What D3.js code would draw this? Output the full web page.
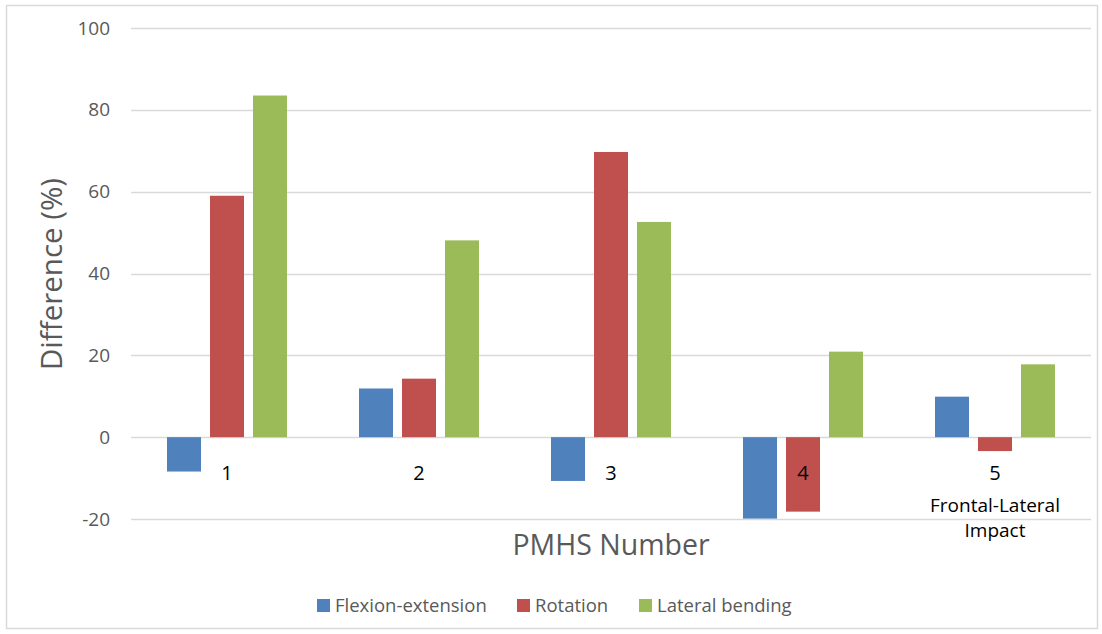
<!DOCTYPE html>
<html>
<head>
<meta charset="utf-8">
<script src="https://cdn.jsdelivr.net/npm/d3@7"></script>
<style>
  html, body { margin: 0; padding: 0; background: #fff; }
  svg { display: block; font-family: "Open Sans", "Noto Sans", sans-serif; }
</style>
</head>
<body>
<svg id="chart" width="1102" height="634"></svg>
<script>
// PMHS specimens and per-motion differences (%)
const categories = ["1", "2", "3", "4", "5"];
const categorySubLabels = [[], [], [], [], ["Frontal-Lateral", "Impact"]];
const seriesNames = ["Flexion-extension", "Rotation", "Lateral bending"];
const flexionExtension = [-8.4, 11.9, -10.7, -19.9, 9.9];
const rotation = [59.0, 14.3, 69.7, -18.2, -3.4];
const lateralBending = [83.5, 48.1, 52.6, 20.9, 17.8];
const yTicks = [-20, 0, 20, 40, 60, 80, 100];
const colors = ["#4F81BD", "#C0504D", "#9BBB59"];

const seriesValues = [flexionExtension, rotation, lateralBending];

const svg = d3.select("#chart");

// outer frame
svg.append("rect")
  .attr("x", 6.5).attr("y", 5.5)
  .attr("width", 1091).attr("height", 623)
  .attr("fill", "none").attr("stroke", "#d9d9d9").attr("stroke-width", 1.5);

const plotLeft = 131, plotRight = 1091, plotTop = 28, plotBottom = 519;

const x = d3.scaleBand().domain(categories).range([plotLeft, plotRight]).padding(0);
const y = d3.scaleLinear().domain([-20, 100]).range([plotBottom, plotTop]);

// horizontal gridlines
svg.append("g").selectAll("line").data(yTicks).join("line")
  .attr("x1", plotLeft).attr("x2", plotRight)
  .attr("y1", d => Math.round(y(d)) + 0.5).attr("y2", d => Math.round(y(d)) + 0.5)
  .attr("stroke", "#d9d9d9").attr("stroke-width", 1.5);

// y-axis tick labels (plain hyphen for negatives)
const yAxis = d3.axisLeft(y).tickValues(yTicks).tickFormat(d => String(d))
  .tickSize(0).tickPadding(0);
const yg = svg.append("g").attr("transform", `translate(${plotLeft - 21},0)`).call(yAxis);
yg.select(".domain").remove();
yg.selectAll("text")
  .attr("fill", "#595959").style("font-size", "19px")
  .style("font-family", "'Open Sans', sans-serif");

// bars: fixed bar width and gap inside each category band
const barW = 34, barGap = 9;
const groupW = barW * 3 + barGap * 2;
const sub = d3.scaleBand().domain(d3.range(3))
  .range([0, groupW]).paddingInner(barGap / (barW + barGap)).paddingOuter(0);

const groups = svg.append("g").selectAll("g").data(categories).join("g")
  .attr("transform", d => `translate(${x(d) + x.bandwidth() / 2 - groupW / 2},0)`);

groups.selectAll("rect")
  .data((c, ci) => seriesValues.map((vals, si) => ({ si, v: vals[ci] })))
  .join("rect")
  .attr("x", d => sub(d.si))
  .attr("width", sub.bandwidth())
  .attr("y", d => y(Math.max(0, d.v)))
  .attr("height", d => Math.abs(y(d.v) - y(0)))
  .attr("fill", d => colors[d.si]);

// category labels, placed just below the zero line
const catG = svg.append("g");
categories.forEach((c, i) => {
  const cx = x(c) + x.bandwidth() / 2;
  catG.append("text")
    .attr("x", cx).attr("y", 480)
    .attr("text-anchor", "middle")
    .attr("fill", "#000").style("font-size", "20px")
    .text(c);
  categorySubLabels[i].forEach((s, k) => {
    catG.append("text")
      .attr("x", cx).attr("y", 512 + k * 25)
      .attr("text-anchor", "middle")
      .attr("fill", "#000").style("font-size", "19px")
      .text(s);
  });
});

// axis titles
svg.append("text")
  .attr("x", 611).attr("y", 555)
  .attr("text-anchor", "middle")
  .attr("fill", "#595959").style("font-size", "28.5px")
  .text("PMHS Number");

svg.append("text")
  .attr("transform", "translate(62,274) rotate(-90)")
  .attr("text-anchor", "middle")
  .attr("fill", "#595959").style("font-size", "29.5px")
  .text("Difference (%)");

// legend
const legendItems = [
  { name: seriesNames[0], x: 317 },
  { name: seriesNames[1], x: 517 },
  { name: seriesNames[2], x: 639 }
];
const lg = svg.append("g");
legendItems.forEach((it, i) => {
  lg.append("rect")
    .attr("x", it.x).attr("y", 599)
    .attr("width", 13).attr("height", 13)
    .attr("fill", colors[i]);
  lg.append("text")
    .attr("x", it.x + 18).attr("y", 612)
    .attr("fill", "#595959").style("font-size", "18.5px")
    .text(it.name);
});
</script>
</body>
</html>
